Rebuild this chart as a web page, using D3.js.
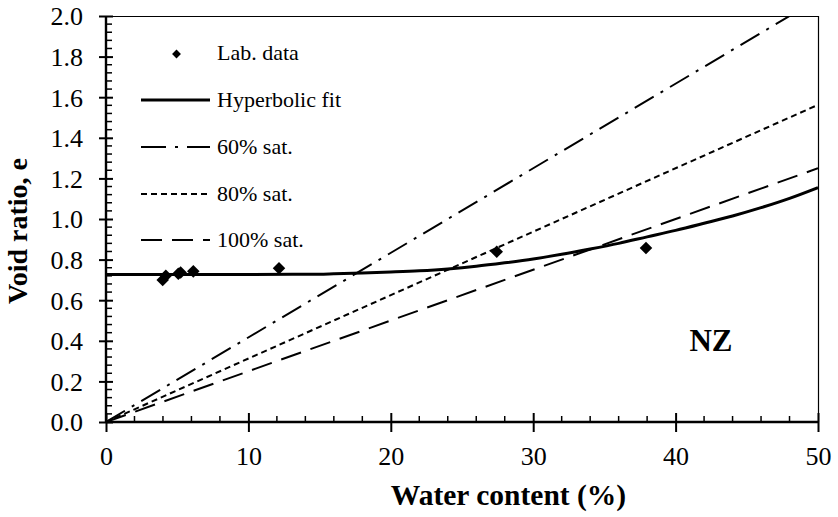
<!DOCTYPE html>
<html>
<head>
<meta charset="utf-8">
<script src="https://cdn.jsdelivr.net/npm/d3@7"></script>
<style>
  html, body { margin: 0; padding: 0; background: #fff; }
  svg { display: block; }
</style>
</head>
<body>
<svg id="chart" width="838" height="517"></svg>
<script>
// Laboratory measurements: water content (%) and void ratio
const labW = [3.98, 4.2, 5.08, 5.24, 6.13, 12.15, 27.44, 37.92];
const labE = [0.700, 0.720, 0.730, 0.737, 0.742, 0.757, 0.839, 0.857];

// Hyperbolic fit curve, sampled
const fitW = [0, 5, 10, 15, 16, 18, 20, 22, 24, 26, 28, 30, 32, 34, 36, 38, 40, 42, 44, 46, 48, 50];
const fitE = [0.727, 0.727, 0.727, 0.728, 0.730, 0.734, 0.739, 0.745, 0.754, 0.767, 0.784, 0.803, 0.826, 0.852, 0.880, 0.912, 0.944, 0.979, 1.015, 1.056, 1.102, 1.155];

// Saturation lines (Gs = 2.5), end points
const sat60W = [0, 50], sat60E = [0, 2.0833];
const sat80W = [0, 50], sat80E = [0, 1.5625];
const sat100W = [0, 50], sat100E = [0, 1.25];

const xTicks = [0, 10, 20, 30, 40, 50];
const yTicks = [0.0, 0.2, 0.4, 0.6, 0.8, 1.0, 1.2, 1.4, 1.6, 1.8, 2.0];

const legendLabels = ["Lab. data", "Hyperbolic fit", "60% sat.", "80% sat.", "100% sat."];

const FONT = '"Liberation Serif", "Times New Roman", serif';

const svg = d3.select("#chart");
const pL = 106, pR = 818, pT = 16, pB = 422;

const x = d3.scaleLinear().domain([0, 50]).range([pL, pR]);
const y = d3.scaleLinear().domain([0, 2]).range([pB, pT]);

const zip = (a, b) => a.map((v, i) => [v, b[i]]);

// clip region for the plotted series
svg.append("defs").append("clipPath").attr("id", "plot")
  .append("rect").attr("x", pL).attr("y", pT)
  .attr("width", pR - pL).attr("height", pB - pT);

// frame: thin top & right
svg.append("line").attr("x1", pL).attr("x2", pR).attr("y1", pT + 0.5).attr("y2", pT + 0.5)
  .attr("stroke", "#000").attr("stroke-width", 1.2);
svg.append("line").attr("x1", pR + 0.5).attr("x2", pR + 0.5).attr("y1", pT).attr("y2", pB)
  .attr("stroke", "#000").attr("stroke-width", 1.2);

// minor ticks
const xMinor = d3.range(0, 50.001, 2).filter(v => v % 10 !== 0);
const yMinor = d3.range(0, 2.0001, 0.04).filter(v => Math.abs(v / 0.2 - Math.round(v / 0.2)) > 1e-6);

svg.append("g").selectAll("line").data(xMinor).join("line")
  .attr("x1", d => x(d)).attr("x2", d => x(d))
  .attr("y1", pB).attr("y2", pB - 6)
  .attr("stroke", "#000").attr("stroke-width", 1.5);
svg.append("g").selectAll("line").data(yMinor).join("line")
  .attr("x1", pL).attr("x2", pL + 6)
  .attr("y1", d => y(d)).attr("y2", d => y(d))
  .attr("stroke", "#000").attr("stroke-width", 1.5);

// major axes
const xAxis = svg.append("g").attr("transform", `translate(0,${pB})`)
  .call(d3.axisBottom(x).tickValues(xTicks).tickSize(10).tickFormat(d3.format("d")));
const yAxis = svg.append("g").attr("transform", `translate(${pL},0)`)
  .call(d3.axisLeft(y).tickValues(yTicks).tickSize(7).tickFormat(d3.format(".1f")));

[xAxis, yAxis].forEach(g => {
  g.select(".domain").attr("stroke", "#000").attr("stroke-width", 2.4);
  g.selectAll(".tick line").attr("stroke", "#000").attr("stroke-width", 2);
  g.selectAll(".tick text").style("font-family", FONT)
    .style("font-size", "26px").attr("fill", "#000");
});
xAxis.select(".domain").attr("d", `M${pL},0H${pR}`);
yAxis.select(".domain").attr("d", `M0,${pB}V${pT}`);
xAxis.selectAll(".tick line").attr("y1", -9).attr("y2", 10);
xAxis.selectAll(".tick text").attr("y", 25).attr("dy", "0.71em");
yAxis.selectAll(".tick line").attr("x1", 7).attr("x2", -7);
yAxis.selectAll(".tick text").attr("x", -23).attr("dy", "0.34em");

// series
const line = d3.line().x(d => x(d[0])).y(d => y(d[1]));
const plot = svg.append("g").attr("clip-path", "url(#plot)");

const satStyles = [
  { w: sat60W, e: sat60E, dash: "22,8,3,8" },
  { w: sat80W, e: sat80E, dash: "6,4" },
  { w: sat100W, e: sat100E, dash: "21,10" }
];
satStyles.forEach(s => {
  plot.append("path").attr("d", line(zip(s.w, s.e)))
    .attr("fill", "none").attr("stroke", "#000").attr("stroke-width", 2)
    .attr("stroke-dasharray", s.dash);
});

const fitLine = d3.line().x(d => x(d[0])).y(d => y(d[1])).curve(d3.curveMonotoneX);
plot.append("path").attr("d", fitLine(zip(fitW, fitE)))
  .attr("fill", "none").attr("stroke", "#000").attr("stroke-width", 3);

const diamond = d3.symbol().type(d3.symbolDiamond2).size(100);
svg.append("g").selectAll("path").data(zip(labW, labE)).join("path")
  .attr("transform", d => `translate(${x(d[0])},${y(d[1])})`)
  .attr("d", diamond).attr("fill", "#000");

// legend
const lg = svg.append("g");
const rowBase = [60, 107, 154, 201, 247];
lg.append("path").attr("transform", `translate(176.5,${rowBase[0] - 6})`)
  .attr("d", d3.symbol().type(d3.symbolDiamond2).size(50)).attr("fill", "#000");
const legLines = [
  { dash: null, wdt: 3 },
  { dash: "25,9,3,9", wdt: 2 },
  { dash: "6,4", wdt: 2 },
  { dash: "21,10", wdt: 2 }
];
legLines.forEach((s, i) => {
  lg.append("line").attr("x1", 141).attr("x2", 210)
    .attr("y1", rowBase[i + 1] - 7).attr("y2", rowBase[i + 1] - 7)
    .attr("stroke", "#000").attr("stroke-width", s.wdt)
    .attr("stroke-dasharray", s.dash);
});
lg.selectAll("text").data(legendLabels).join("text")
  .attr("x", 217).attr("y", (d, i) => rowBase[i])
  .style("font-family", FONT).style("font-size", "22px").text(d => d);

// axis titles
svg.append("text").attr("x", 508.5).attr("y", 505).attr("text-anchor", "middle")
  .style("font-family", FONT).style("font-size", "29.5px").style("font-weight", "bold")
  .text("Water content (%)");
svg.append("text").attr("transform", "translate(27,231) rotate(-90)").attr("text-anchor", "middle")
  .style("font-family", FONT).style("font-size", "28px").style("font-weight", "bold")
  .text("Void ratio, e");

// site label
svg.append("text").attr("x", 711).attr("y", 351).attr("text-anchor", "middle")
  .style("font-family", FONT).style("font-size", "31px").style("font-weight", "bold")
  .text("NZ");
</script>
</body>
</html>
